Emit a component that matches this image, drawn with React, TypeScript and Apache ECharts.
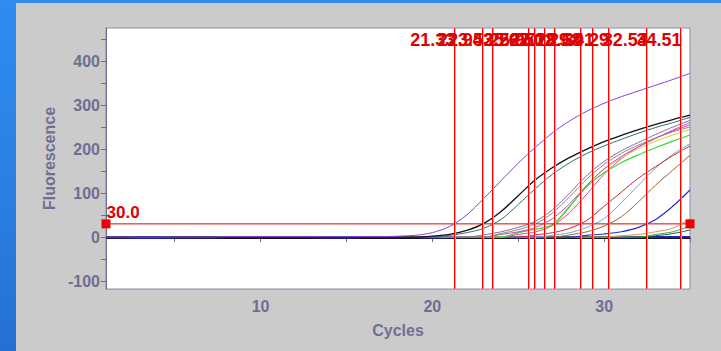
import React, { useEffect, useRef } from "react";
import * as echarts from "echarts";

const cycles = [1,2,3,4,5,6,7,8,9,10,11,12,13,14,15,16,17,18,19,20,21,22,23,24,25,26,27,28,29,30,31,32,33,34,35];

const purple = [0,0,0,0,0,0,0,1,1,1,1,1,1,1,1,1,1,2,4,10,24,50,88,128,168,204,237,264,286,304,319,332,345,358,372];
const black = [0,0,0,0,0,0,0,0,0,0,0,0,0,0,0,0,0,0,0,2,6,15,31,58,94,130,158,181,200,217,231,244,256,267,277];
const teal = [0,0,0,0,0,0,0,0,0,0,0,0,0,0,0,0,0,0,0,0,4,10,20,40,74,110,143,169,190,207,222,236,249,260,272];
const grayPurple = [0,0,0,0,0,0,0,0,0,0,0,0,0,0,0,0,0,0,0,0,0,0,5,12,22,36,62,100,140,172,196,215,233,250,265];
const gray = [0,0,0,0,0,0,0,0,0,0,0,0,0,0,0,0,0,0,0,0,0,0,0,8,17,30,55,92,132,165,190,209,225,239,250];
const magenta = [0,0,0,0,0,0,0,0,0,0,0,0,0,0,0,0,0,0,0,0,0,0,0,6,12,22,42,76,118,155,183,205,224,243,260];
const green = [0,0,0,0,0,0,0,0,0,0,0,0,0,0,0,0,0,0,0,0,0,0,0,0,10,18,28,70,115,146,169,187,203,218,232];
const yellow = [0,0,0,0,0,0,0,0,0,0,0,0,0,0,0,0,0,0,0,0,0,0,0,0,10,18,27,68,118,154,180,201,218,232,245];
const pink = [0,0,0,0,0,0,0,0,0,0,0,0,0,0,0,0,0,0,0,0,0,0,0,0,6,12,26,56,98,143,178,205,225,241,255];
const red = [0,0,0,0,0,0,0,0,0,0,0,0,0,0,0,0,0,0,0,0,0,0,0,0,0,5,10,20,38,70,102,134,160,185,207];
const lightBlue = [0,0,0,0,0,0,0,0,0,0,0,0,0,0,0,0,0,0,0,0,0,0,0,0,0,0,4,10,22,42,78,118,157,188,212];
const brown = [0,0,0,0,0,0,0,0,0,0,0,0,0,0,0,0,0,0,0,0,0,0,0,0,0,0,0,5,12,25,46,80,118,152,186];
const blue = [0,0,0,0,0,0,0,0,0,0,0,0,0,0,0,0,0,0,0,0,0,0,0,0,0,0,0,0,4,7,12,22,40,70,107];
const orange = [0,0,0,0,0,0,0,0,0,0,0,0,0,0,0,0,0,0,0,0,0,0,0,0,0,0,0,0,0,0,3,6,12,20,42];
const green2 = [0,0,0,0,0,0,0,0,0,0,0,0,0,0,0,0,0,0,0,0,0,0,0,0,0,0,0,0,0,0,0,0,6,12,25];
const darkGreen = [0,0,0,0,0,0,0,0,0,0,0,0,0,0,0,0,0,0,0,0,0,0,0,0,0,0,0,0,0,0,0,0,3,8,16];
const baseBlack = [-3,-3,-3,-3,-3,-3,-3,-3,-3,-3,-3,-3,-3,-3,-3,-3,-3,-3,-3,-3,-3,-3,-3,-3,-3,-3,-3,-3,-3,-3,-3,-3,-3,-3,-3];
const baseBlue = [-1,-1,-2,-2,-1,-1,-1,0,0,0,0,0,0,-1,-1,0,0,0,0,-1,-1,0,0,0,-1,-1,0,0,0,0,-1,0,0,0,0];

const ctValues = [21.33, 22.94, 23.53, 25.62, 25.97, 26.5, 27.12, 27.18, 28.68, 29.41, 30.29, 32.54, 34.51];
const THRESHOLD = 30;

const yTicks = [-100,-50,0,50,100,150,200,250,300,350,400,450];
const yLabels = [-100,0,100,200,300,400];
const xTicks = [5,10,15,20,25,30,35];
const xLabels = [10,20,30];

const X_MIN = 1, X_MAX = 35, Y_MIN = -118, Y_MAX = 475;

const curves: [number[], string, number][] = [
  [baseBlack, "#111111", 1.2],
  [baseBlue, "#2020c0", 2],
  [darkGreen, "#116633", 1],
  [green2, "#33aa55", 1],
  [orange, "#ee8855", 1],
  [blue, "#2233cc", 1.2],
  [brown, "#996633", 1],
  [lightBlue, "#66aadd", 1],
  [red, "#dd2222", 1],
  [pink, "#ff33aa", 1],
  [yellow, "#cccc33", 1],
  [green, "#33dd33", 1.2],
  [magenta, "#cc44cc", 1],
  [gray, "#888888", 1],
  [grayPurple, "#8a6a9a", 1],
  [teal, "#2f6f6f", 1],
  [black, "#111111", 1.3],
  [purple, "#8a3fe0", 1],
];

const FONT = '"Liberation Sans", Arial, sans-serif';
const AXIS_COLOR = "#6e6e92";
const RED = "#ff0000";
const HALO = "#ff9a9a";

export default function App() {
  const ref = useRef<HTMLDivElement>(null);
  useEffect(() => {
    if (!ref.current) return;
    const chart = echarts.init(ref.current, undefined, { renderer: "svg" });
    const series: any[] = curves.map(([vals, color, w]) => ({
      type: "line",
      data: cycles.map((c, i) => [c, vals[i]]),
      symbol: "none",
      smooth: 0.3,
      lineStyle: { color, width: w },
      itemStyle: { color },
      silent: true,
    }));
    series.push({
      type: "line",
      data: [
        {
          value: [X_MIN, THRESHOLD],
          label: {
            show: true,
            formatter: THRESHOLD.toFixed(1),
            position: [5, -15],
            color: "#e00000",
            fontWeight: "bold",
            fontSize: 17,
            fontFamily: FONT,
          },
        },
        { value: [X_MAX, THRESHOLD] },
      ],
      symbol: "rect",
      symbolSize: 9,
      clip: false,
      silent: true,
      itemStyle: { color: "#ee0000" },
      lineStyle: { color: "#e00000", width: 1 },
      z: 5,
    });
    series.push({
      type: "custom",
      data: ctValues.map((v) => [v, 0]),
      encode: { x: 0, y: 1 },
      z: 6,
      silent: true,
      itemStyle: { color: RED },
      renderItem: (params: any, api: any) => {
        const x = api.value(0);
        const top = api.coord([x, Y_MAX]);
        const bot = api.coord([x, Y_MIN]);
        const px = 2 * Math.round((top[0] - 1) / 2);
        const y0 = Math.round(top[1]);
        const h = Math.round(bot[1] - top[1]);
        return {
          type: "group",
          children: [
            {
              type: "rect",
              shape: { x: px, y: y0, width: 2, height: h },
              style: { fill: HALO, stroke: null, lineWidth: 0 },
            },
            {
              type: "rect",
              shape: { x: px, y: y0, width: 1, height: h },
              style: { fill: RED, stroke: null, lineWidth: 0 },
            },
            {
              type: "text",
              x: top[0],
              y: top[1] + 12,
              style: {
                text: ctValues[params.dataIndex].toFixed(2),
                align: "right",
                verticalAlign: "middle",
                fill: "#e00000",
                font: `bold 18px ${FONT}`,
              },
            },
          ],
        };
      },
    });
    chart.setOption({
      animation: false,
      grid: {
        left: 90,
        top: 25,
        width: 584,
        height: 261,
        show: true,
        backgroundColor: "#ffffff",
        borderColor: "#8a8aa8",
        borderWidth: 1,
      },
      xAxis: {
        type: "value",
        min: X_MIN,
        max: X_MAX,
        name: "Cycles",
        nameLocation: "middle",
        nameGap: 33,
        nameTextStyle: { color: "#707094", fontWeight: "bold", fontSize: 16, fontFamily: FONT, verticalAlign: "top" },
        axisLine: { show: true, lineStyle: { color: AXIS_COLOR } },
        axisTick: { show: true, length: 5, customValues: xTicks, lineStyle: { color: AXIS_COLOR } },
        axisLabel: {
          customValues: xLabels,
          color: AXIS_COLOR,
          fontWeight: "bold",
          fontSize: 16,
          fontFamily: FONT,
          margin: 9,
        },
        splitLine: { show: false },
      },
      yAxis: {
        type: "value",
        min: Y_MIN,
        max: Y_MAX,
        name: "Fluorescence",
        nameLocation: "middle",
        nameGap: 47,
        nameTextStyle: { color: "#707094", fontWeight: "bold", fontSize: 16, fontFamily: FONT },
        axisLine: { show: true, lineStyle: { color: AXIS_COLOR } },
        axisTick: { show: true, length: 5, customValues: yTicks, lineStyle: { color: AXIS_COLOR } },
        axisLabel: {
          customValues: yLabels,
          color: AXIS_COLOR,
          fontWeight: "bold",
          fontSize: 16,
          fontFamily: FONT,
          margin: 6,
        },
        splitLine: { show: false },
      },
      series,
    });
    return () => chart.dispose();
  }, []);
  return (
    <div
      style={{
        position: "fixed",
        left: 0,
        top: 0,
        width: 721,
        height: 351,
        background: "linear-gradient(180deg, #2f8cf0 0%, #2a7ee0 60%, #2470d0 100%)",
        overflow: "hidden",
      }}
    >
      <div
        style={{ position: "absolute", left: 16, top: 3, width: 705, height: 348, background: "#cbcbcb" }}
      >
        <div ref={ref} style={{ width: 705, height: 348 }} />
      </div>
    </div>
  );
}
